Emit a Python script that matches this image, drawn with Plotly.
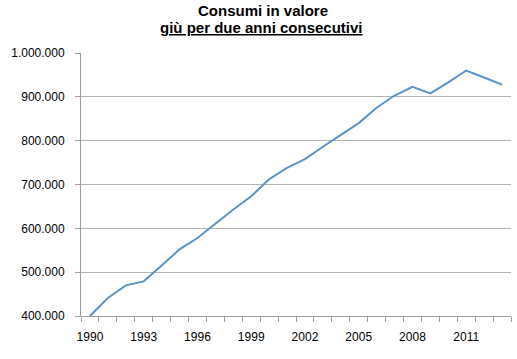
import plotly.graph_objects as go

years = list(range(1990, 2014))
consumi = [400000, 441000, 470000, 479000, 515000, 552000, 578000, 611000,
           643000, 673000, 712000, 738000, 758000, 786000, 812000, 840000,
           875000, 903000, 923000, 908000, 933000, 960000, 944000, 928000]
x_tick_labels = [1990, 1993, 1996, 1999, 2002, 2005, 2008, 2011]
y_ticks = [400000, 500000, 600000, 700000, 800000, 900000, 1000000]
title_line1 = "Consumi in valore"
title_line2 = "giù per due anni consecutivi"

font_family = "Liberation Sans, Arial, sans-serif"

W, H = 517, 359
ML, MR, MT, MB = 81, 6, 53, 43
plot_h = H - MT - MB

fig = go.Figure()
fig.add_trace(go.Scatter(
    x=years, y=consumi, mode="lines",
    line=dict(color="#5A93C9", width=2),
    showlegend=False, hoverinfo="x+y",
))

def ypaper(pix):
    return (H - MB - pix) / plot_h

fig.update_layout(
    width=W, height=H,
    margin=dict(l=ML, r=MR, t=MT, b=MB),
    paper_bgcolor="white", plot_bgcolor="white",
    separators=",.",
    font=dict(family=font_family, size=12, color="#000000"),
    annotations=[
        dict(text="<b>" + title_line1 + "</b>", xref="paper", yref="paper",
             x=(263 - ML) / (W - ML - MR), y=ypaper(10.5), xanchor="center",
             yanchor="middle", showarrow=False,
             font=dict(family=font_family, size=15, color="#000000")),
        dict(text="<b><u>" + title_line2 + "</u></b>", xref="paper", yref="paper",
             x=(261 - ML) / (W - ML - MR), y=ypaper(27.5), xanchor="center",
             yanchor="middle", showarrow=False,
             font=dict(family=font_family, size=15, color="#000000")),
    ],
)

fig.update_xaxes(
    range=[1989.5, 2013.5],
    tickmode="array", tickvals=x_tick_labels,
    ticktext=[str(v) for v in x_tick_labels],
    ticks="", showgrid=False, zeroline=False,
    showline=True, linecolor="#9f9f9f", linewidth=1,
    minor=dict(tick0=1989.5, dtick=1, ticks="outside", ticklen=5,
               tickcolor="#9f9f9f", showgrid=False),
    ticklabelstandoff=10,
    tickfont=dict(size=12),
)
fig.update_yaxes(
    range=[400000, 1000000],
    tickmode="array", tickvals=y_ticks, tickformat=",d",
    ticks="outside", ticklen=5, tickcolor="#9f9f9f",
    showgrid=True, gridcolor="#b4b4b4", gridwidth=1,
    zeroline=False,
    showline=True, linecolor="#9f9f9f", linewidth=1,
    ticklabelstandoff=8,
    tickfont=dict(size=12),
)

fig.write_html("out.html",
               config={"displayModeBar": False},
               post_script="document.body.style.margin='0';")
